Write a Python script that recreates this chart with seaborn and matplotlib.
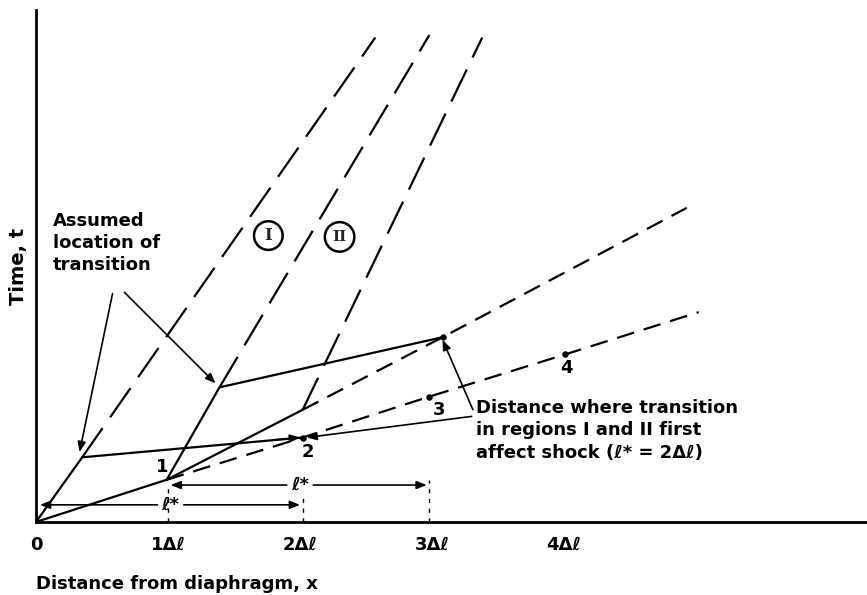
import matplotlib
matplotlib.use("Agg")
import matplotlib.pyplot as plt
import seaborn as sns

# x in units of delta-l, t in the same drawing scale
shock_a_x = [0.0, 0.35, 2.02]
shock_a_y = [0.0, 0.49, 0.64]
shock_b_x = [0.0, 0.99, 1.39, 3.08]
shock_b_y = [0.0, 0.32, 1.02, 1.40]
shock_c_x = [0.99, 2.02]
shock_c_y = [0.32, 0.85]

bound_1_x = [0.35, 2.57]
bound_1_y = [0.49, 3.67]
bound_2_x = [1.39, 2.98]
bound_2_y = [1.02, 3.69]
bound_3_x = [2.02, 3.38]
bound_3_y = [0.85, 3.67]

laminar_x = [0.99, 2.02, 2.98, 4.01, 5.02]
laminar_y = [0.32, 0.64, 0.95, 1.27, 1.59]
turb_x = [2.02, 3.08, 4.93]
turb_y = [0.85, 1.40, 2.38]

dot_x = [2.02, 2.98, 4.01, 3.08]
dot_y = [0.64, 0.95, 1.27, 1.40]

point_names = ["1", "2", "3", "4"]
point_lab_x = [0.955, 2.06, 3.05, 4.02]
point_lab_y = [0.42, 0.53, 0.85, 1.17]

tick_pos = [0, 1, 2, 3, 4]
tick_labels = ["0", "1\u0394\u2113", "2\u0394\u2113", "3\u0394\u2113", "4\u0394\u2113"]

sns.set_theme(style="white")
plt.rcParams["font.family"] = ["DejaVu Sans"]
plt.rcParams["font.weight"] = "bold"

fig = plt.figure(figsize=(8.67, 5.95), dpi=100)
ax = fig.add_axes([0.0415, 0.1227, 0.9585, 0.8605])

long_dash = (0, (16, 6))
short_dash = (0, (8, 4.5))
lw = 1.6

for xs, ys in [(shock_a_x, shock_a_y), (shock_b_x, shock_b_y), (shock_c_x, shock_c_y)]:
    sns.lineplot(x=xs, y=ys, ax=ax, color="black", lw=lw, sort=False, estimator=None)
for xs, ys in [(bound_1_x, bound_1_y), (bound_2_x, bound_2_y), (bound_3_x, bound_3_y)]:
    sns.lineplot(x=xs, y=ys, ax=ax, color="black", lw=lw, linestyle=long_dash,
                 sort=False, estimator=None)
for xs, ys in [(laminar_x, laminar_y), (turb_x, turb_y)]:
    sns.lineplot(x=xs, y=ys, ax=ax, color="black", lw=lw, linestyle=short_dash,
                 sort=False, estimator=None)
sns.scatterplot(x=dot_x, y=dot_y, ax=ax, color="black", s=18, edgecolor="black", zorder=5)

txt = dict(color="black", fontsize=13, fontweight="bold")
for name, lx, ly in zip(point_names, point_lab_x, point_lab_y):
    ax.text(lx, ly, name, ha="center", va="center", **txt)

# region labels
ax.text(1.76, 2.17, "I", ha="center", va="center", fontsize=12, family="DejaVu Serif",
        fontweight="bold", bbox=dict(boxstyle="circle,pad=0.35", fc="white", ec="black", lw=1.8))
ax.text(2.30, 2.16, "II", ha="center", va="center", fontsize=11, family="DejaVu Serif",
        fontweight="bold", bbox=dict(boxstyle="circle,pad=0.5", fc="white", ec="black", lw=1.8))

arrow = dict(arrowstyle="-|>,head_length=0.5,head_width=0.2", color="black", lw=1.2,
             shrinkA=0, shrinkB=0)

# arrow head where the first shock path meets point 2
ax.annotate("", xy=(2.0, 0.64), xytext=(1.8, 0.622), arrowprops=arrow)

ax.text(0.13, 2.35, "Assumed\nlocation of\ntransition", ha="left", va="top",
        linespacing=1.3, **txt)
ax.annotate("", xy=(0.33, 0.53), xytext=(0.58, 1.73), arrowprops=arrow)
ax.annotate("", xy=(1.36, 1.05), xytext=(0.67, 1.74), arrowprops=arrow)

ax.text(3.33, 0.93, "Distance where transition\nin regions I and II first\naffect shock (\u2113* = 2\u0394\u2113)",
        ha="left", va="top", linespacing=1.3, **txt)
ax.annotate("", xy=(3.08, 1.38), xytext=(3.31, 0.85), arrowprops=arrow)
ax.annotate("", xy=(2.05, 0.64), xytext=(3.30, 0.80), arrowprops=arrow)

# l* dimension lines
ax.annotate("", xy=(0.03, 0.13), xytext=(0.92, 0.13), arrowprops=arrow)
ax.annotate("", xy=(2.0, 0.13), xytext=(1.12, 0.13), arrowprops=arrow)
ax.text(1.02, 0.13, "\u2113*", ha="center", va="center", **txt)
ax.annotate("", xy=(1.02, 0.28), xytext=(1.9, 0.28), arrowprops=arrow)
ax.annotate("", xy=(2.96, 0.28), xytext=(2.1, 0.28), arrowprops=arrow)
ax.text(2.0, 0.28, "\u2113*", ha="center", va="center", **txt)
for vx, vtop in [(1.0, 0.28), (2.02, 0.18), (2.98, 0.32)]:
    ax.plot([vx, vx], [0, vtop], color="black", lw=1.0, linestyle=(0, (3, 4)))

ax.set_xlim(0, 6.295)
ax.set_ylim(0, 3.879)
ax.set_xticks(tick_pos)
ax.set_xticklabels(tick_labels, fontsize=13, fontweight="bold")
ax.set_yticks([])
ax.tick_params(axis="x", direction="in", length=5, width=1.2, pad=10, colors="black")
sns.despine(ax=ax)
for side in ["left", "bottom"]:
    ax.spines[side].set_color("black")
    ax.spines[side].set_linewidth(2)
ax.set_xlabel("Distance from diaphragm, x", loc="left", fontsize=13, fontweight="bold",
              labelpad=15, color="black")
ax.set_ylabel("Time, t", fontsize=14, fontweight="bold", labelpad=6, color="black")

fig.savefig("out.png", dpi=100)
